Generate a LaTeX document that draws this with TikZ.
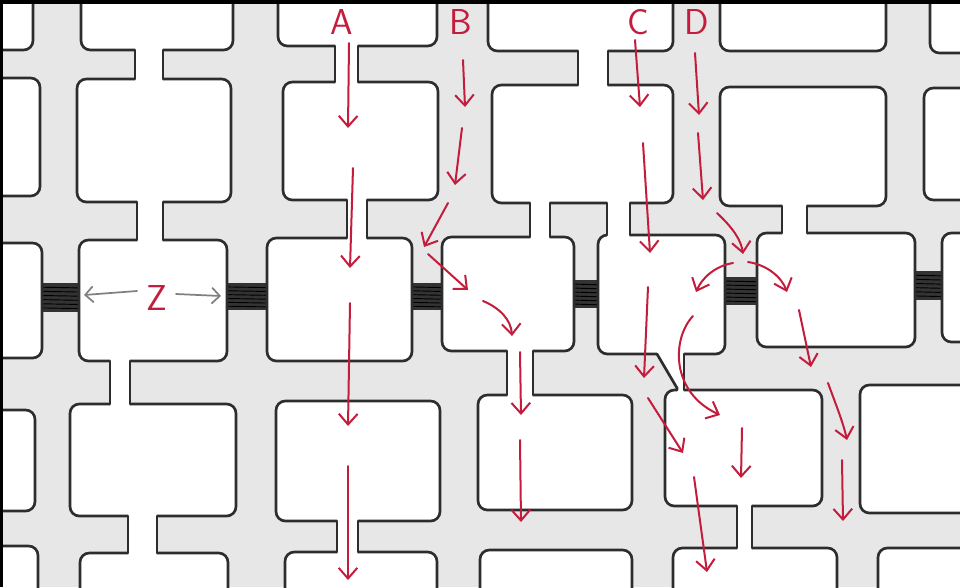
\documentclass[tikz,border=0pt]{standalone}
\usetikzlibrary{arrows.meta}
\definecolor{ink}{RGB}{45,45,45}
\definecolor{flowred}{RGB}{196,28,60}
\definecolor{wallgray}{RGB}{231,231,231}
\tikzset{
  cellbox/.style={draw=ink, line width=2pt, fill=white, rounded corners=7pt},
  neckline/.style={draw=ink, line width=2pt, line cap=round},
  flow/.style={draw=flowred, line width=1.5pt, line cap=round,
    -{Straight Barb[length=8pt,width=14pt,line width=1.5pt]}},
  zarrow/.style={draw=black!50, line width=1.3pt, line cap=round,
    -{Straight Barb[length=6pt,width=12pt,line width=1.3pt]}},
  lab/.style={text=flowred, font=\sffamily\fontsize{27}{27}\selectfont, inner sep=0pt},
  bandfill/.style={fill=black!80, draw=none},
}
\newcommand{\wcell}[4]{\draw[cellbox] (#1,#2) rectangle (#3,#4);}
\newcommand{\wneck}[4]{%
  \fill[white] (#1,#3-4) rectangle (#2,#4+4);
  \draw[neckline] (#1,#3) -- (#1,#4);
  \draw[neckline] (#2,#3) -- (#2,#4);}
\newcommand{\dband}[4]{%
  \fill[bandfill] (#1-3,#2) rectangle (#3+3,#4);
  \foreach \k in {1,...,6}{\draw[black, line width=0.7pt] (#1-3,{#2+\k*(#4-#2)/7}) -- (#3+3,{#2+\k*(#4-#2)/7+0.8});}}
\begin{document}
\begin{tikzpicture}[x=0.75pt,y=-0.75pt]
\useasboundingbox (0,0) rectangle (960,587);
\begin{scope}
\clip (0,0) rectangle (960,587);
\fill[wallgray] (0,0) rectangle (960,587);
% dark junction bands
\dband{42}{283}{79}{312}
\dband{227}{283}{267}{310}
\dband{412}{283}{442}{310}
\dband{574}{280}{598}{308}
\dband{725}{277}{757}{305}
\dband{915}{271}{942}{300}
% row 0
\wcell{-30}{-30}{33}{50}
\wcell{81}{-30}{233}{50}
\wcell{278}{-30}{437}{46}
\wcell{488}{-30}{673}{51}
\wcell{720}{-30}{886}{51}
\wcell{930}{-30}{1000}{53}
% row 1
\wcell{-30}{78}{40}{196}
\wcell{77}{79}{231}{202}
\wcell{283}{82}{438}{200}
\wcell{492}{85}{673}{203}
\wcell{720}{87}{886}{206}
\wcell{924}{88}{1000}{200}
% row 2
\wcell{-30}{243}{42}{358}
\wcell{79}{240}{227}{361}
\wcell{267}{238}{412}{361}
\wcell{442}{237}{574}{351}
\wcell{598}{235}{725}{354}
\wcell{757}{233}{915}{347}
\wcell{942}{233}{1000}{342}
% row 3
\wcell{-30}{410}{35}{511}
\wcell{70}{404}{236}{516}
\wcell{276}{401}{440}{521}
\wcell{478}{395}{632}{510}
\wcell{665}{390}{822}{506}
\wcell{860}{385}{1000}{513}
% row 4
\wcell{-30}{546}{38}{650}
\wcell{80}{553}{228}{650}
\wcell{285}{552}{437}{650}
\wcell{480}{550}{632}{650}
\wcell{673}{548}{837}{650}
\wcell{878}{548}{1000}{650}
% necks
\wneck{135}{163}{50}{79}
\wneck{335}{358}{46}{82}
\wneck{578}{608}{51}{85}
\wneck{137}{163}{202}{240}
\wneck{347}{367}{200}{238}
\wneck{530}{550}{203}{237}
\wneck{607}{630}{203}{235}
\wneck{782}{807}{206}{233}
\wneck{110}{130}{361}{404}
\wneck{507}{533}{351}{395}
\wneck{128}{157}{516}{553}
\wneck{337}{358}{521}{552}
\wneck{737}{752}{506}{548}
% slanted narrow neck
\fill[white] (657,350) -- (684,350) -- (684,394) -- (677,394) -- (677,388) -- (657,354) -- cycle;
\draw[neckline] (657,354) -- (677,388) -- (677,390);
\draw[neckline] (684,354) -- (684,390);
\end{scope}
% frame
\draw[black, line width=3pt] (0,2) -- (960,2);
\draw[black, line width=2.2pt] (1.5,0) -- (1.5,587);
% labels
\node[lab] (labA) at (342,22) {A};
\node[lab] (labB) at (461,22) {B};
\node[lab] (labC) at (638,22) {C};
\node[lab] (labD) at (697,22) {D};
\node[lab] (labZ) at (157,298) {Z};
% Z arrows
\coordinate (z1s) at (137,291); \coordinate (z1e) at (84,295);
\coordinate (z2s) at (176,294); \coordinate (z2e) at (221,296);
\draw[zarrow] (z1s) -- (z1e);
\draw[zarrow] (z2s) -- (z2e);
% A path
\coordinate (a1s) at (349,43);  \coordinate (a1e) at (348,128);
\coordinate (a2s) at (353,168); \coordinate (a2e) at (350,268);
\coordinate (a3s) at (350,303); \coordinate (a3e) at (348,426);
\coordinate (a4s) at (348,466); \coordinate (a4e) at (348,580);
\draw[flow] (a1s) -- (a1e);
\draw[flow] (a2s) -- (a2e);
\draw[flow] (a3s) -- (a3e);
\draw[flow] (a4s) -- (a4e);
% B path
\coordinate (b1s) at (463,60);  \coordinate (b1e) at (465,107);
\coordinate (b2s) at (462,128); \coordinate (b2e) at (455,185);
\coordinate (b3s) at (448,203); \coordinate (b3e) at (424,247);
\coordinate (b4s) at (428,254); \coordinate (b4e) at (468,290);
\coordinate (b5s) at (483,301); \coordinate (b5e) at (512,336);
\coordinate (b6s) at (520,352); \coordinate (b6e) at (521,415);
\coordinate (b7s) at (520,440); \coordinate (b7e) at (521,522);
\draw[flow] (b1s) -- (b1e);
\draw[flow] (b2s) -- (b2e);
\draw[flow] (b3s) -- (b3e);
\draw[flow] (b4s) -- (b4e);
\draw[flow] (b5s) .. controls (500,308) and (511,320) .. (b5e);
\draw[flow] (b6s) -- (b6e);
\draw[flow] (b7s) -- (b7e);
% C path
\coordinate (c1s) at (635,40);  \coordinate (c1e) at (640,107);
\coordinate (c2s) at (643,143); \coordinate (c2e) at (650,253);
\coordinate (c3s) at (648,287); \coordinate (c3e) at (644,378);
\coordinate (c4s) at (648,398); \coordinate (c4e) at (683,453);
\coordinate (c5s) at (694,477); \coordinate (c5e) at (707,572);
\draw[flow] (c1s) -- (c1e);
\draw[flow] (c2s) -- (c2e);
\draw[flow] (c3s) -- (c3e);
\draw[flow] (c4s) -- (c4e);
\draw[flow] (c5s) -- (c5e);
% D path
\coordinate (d1s) at (695,53);  \coordinate (d1e) at (699,115);
\coordinate (d2s) at (698,133); \coordinate (d2e) at (703,200);
\coordinate (d3s) at (717,213); \coordinate (d3e) at (743,254);
\coordinate (d4s) at (733,263); \coordinate (d4e) at (696,292);
\coordinate (d5s) at (748,262); \coordinate (d5e) at (787,292);
\coordinate (d6s) at (693,316); \coordinate (d6e) at (720,415);
\coordinate (d7s) at (742,428); \coordinate (d7e) at (741,478);
\coordinate (d8s) at (799,310); \coordinate (d8e) at (811,367);
\coordinate (d9s) at (828,383); \coordinate (d9e) at (847,440);
\coordinate (d10s) at (842,460); \coordinate (d10e) at (843,521);
\draw[flow] (d1s) -- (d1e);
\draw[flow] (d2s) -- (d2e);
\draw[flow] (d3s) .. controls (733,228) and (741,240) .. (d3e);
\draw[flow] (d4s) .. controls (715,266) and (702,278) .. (d4e);
\draw[flow] (d5s) .. controls (768,265) and (782,278) .. (d5e);
\draw[flow] (d6s) .. controls (672,338) and (670,392) .. (d6e);
\draw[flow] (d7s) -- (d7e);
\draw[flow] (d8s) -- (d8e);
\draw[flow] (d9s) .. controls (836,405) and (843,422) .. (d9e);
\draw[flow] (d10s) -- (d10e);
\end{tikzpicture}
\end{document}
